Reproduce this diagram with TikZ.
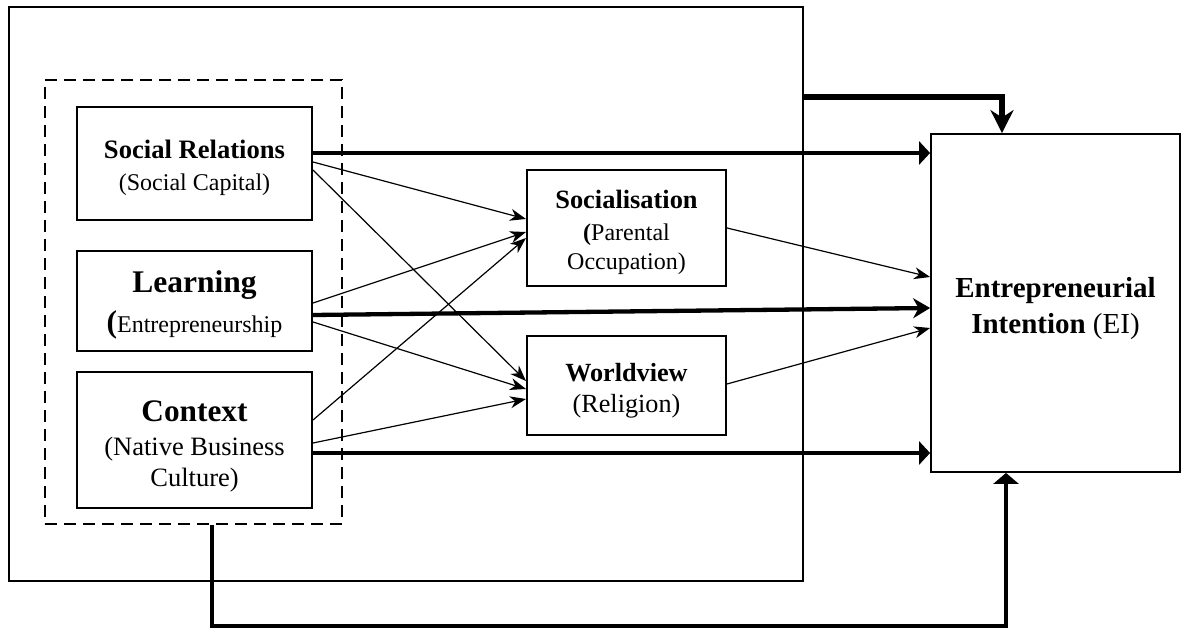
\documentclass[tikz,border=0pt]{standalone}
\usepackage{fontspec}
\setmainfont{Liberation Serif}
\usetikzlibrary{arrows.meta}
% raise the height of a line so that a block of text sits a little lower
\newcommand\pushdown[2]{\raisebox{0pt}[\dimexpr\height+#1\relax]{#2}}
\begin{document}
\begin{tikzpicture}[x=1pt,y=-1pt,
  box/.style={draw, line width=2pt, align=center, inner sep=0pt},
  frame/.style={draw, line width=2pt, inner sep=0pt},
  groupbox/.style={draw, line width=2pt, dash pattern=on 12pt off 7pt, inner sep=0pt},
  thinarrow/.style={line width=1.2pt, -{Stealth[length=16pt,width=12pt,inset=5pt]}},
  thickarrow/.style={line width=4.3pt, -{Triangle[length=11pt,width=23pt]}},
  thickstealth/.style={line width=4.3pt, -{Stealth[length=17pt,width=20pt]}},
  toparrow/.style={line width=6.5pt, -{Stealth[length=23pt,width=23pt]}},
  looparrow/.style={line width=4.5pt, -{Triangle[length=11pt,width=25pt]}}]
\useasboundingbox (0,0) rectangle (1181,628);

% enclosing frame and dashed group of the three antecedents
\node[frame, minimum width=794pt, minimum height=574pt] (outer) at (406,294) {};
\node[groupbox, minimum width=297pt, minimum height=444pt] (group) at (193.5,302) {};

% antecedent boxes
\node[box, minimum width=235pt, minimum height=113pt, font=\fontsize{24}{32}\selectfont] (sr) at (194.5,163.5)
  {\pushdown{8pt}{\fontsize{26.6}{32}\selectfont\bfseries Social Relations}\\(Social Capital)};
\node[box, minimum width=235pt, minimum height=100pt, font=\fontsize{24}{40}\selectfont] (lr) at (194.5,301)
  {\pushdown{7pt}{\fontsize{31.5}{40}\selectfont\bfseries Learning}\\{\fontsize{31.5}{40}\selectfont\bfseries(}Entrepreneurship};
\node[box, minimum width=235pt, minimum height=136pt, font=\fontsize{26.5}{31}\selectfont] (cx) at (194.5,440)
  {\pushdown{12pt}{\fontsize{31.3}{31}\selectfont\bfseries Context}\\[3pt](Native Business\\Culture)};

% mediators
\node[box, minimum width=199pt, minimum height=116pt, font=\fontsize{24}{29}\selectfont] (soc) at (626.5,228)
  {\pushdown{8pt}{\fontsize{26.4}{29}\selectfont\bfseries Socialisation}\\[3pt]{\bfseries(}Parental\\Occupation)};
\node[box, minimum width=199pt, minimum height=99pt, font=\fontsize{26.2}{31}\selectfont] (wv) at (626.5,385.5)
  {\pushdown{10pt}{\bfseries Worldview}\\(Religion)};

% outcome
\node[box, line width=1.8pt, minimum width=249pt, minimum height=338pt, font=\fontsize{29}{36}\selectfont] (ei) at (1055.5,303)
  {\pushdown{11pt}{\bfseries Entrepreneurial}\\{\bfseries Intention} (EI)};

% paths from antecedents to mediators
\draw[thinarrow] (sr.east |- 0,162) -- (soc.west |- 0,219);
\draw[thinarrow] (sr.east |- 0,170) -- (wv.west |- 0,381);
\draw[thinarrow] (lr.east |- 0,303) -- (soc.west |- 0,232);
\draw[thinarrow] (lr.east |- 0,322) -- (wv.west |- 0,389);
\draw[thinarrow] (cx.east |- 0,420) -- (soc.west |- 0,238);
\draw[thinarrow] (cx.east |- 0,443) -- (wv.west |- 0,399);

% mediators to intention
\draw[thinarrow] (soc.east |- 0,228) -- (ei.west |- 0,277);
\draw[thinarrow] (wv.east |- 0,384) -- (ei.west |- 0,328);

% direct effects
\draw[thickarrow] (sr.east |- 0,153) -- (ei.west |- 0,153);
\draw[thickstealth] (lr.east |- 0,315) -- (ei.west |- 0,308);
\draw[thickarrow] (cx.east |- 0,453) -- (ei.west |- 0,453);

% whole-model and group effects
\draw[toparrow] (outer.east |- 0,97) -| (ei.north -| 1002,0);
\coordinate (loopcorner) at (212,626);
\draw[looparrow] (group.south -| 212,0) -- (loopcorner) -| (ei.south -| 1006,0);
\end{tikzpicture}
\end{document}
